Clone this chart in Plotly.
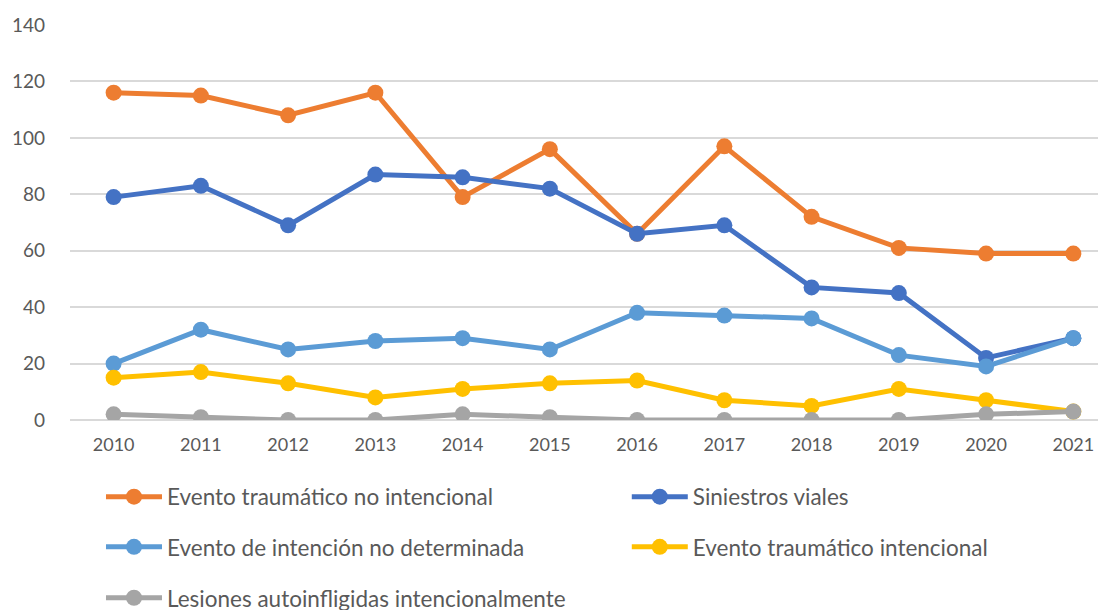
import plotly.graph_objects as go

# years on the x axis
years = ["2010", "2011", "2012", "2013", "2014", "2015",
         "2016", "2017", "2018", "2019", "2020", "2021"]

# series
no_intencional = [116, 115, 108, 116, 79, 96, 66, 97, 72, 61, 59, 59]
siniestros = [79, 83, 69, 87, 86, 82, 66, 69, 47, 45, 22, 29]
no_determinada = [20, 32, 25, 28, 29, 25, 38, 37, 36, 23, 19, 29]
intencional = [15, 17, 13, 8, 11, 13, 14, 7, 5, 11, 7, 3]
autoinfligidas = [2, 1, 0, 0, 2, 1, 0, 0, 0, 0, 2, 3]

series = [
    ("Evento traumático no intencional", no_intencional, "#ED7D31"),
    ("Siniestros viales", siniestros, "#4472C4"),
    ("Evento de intención no determinada", no_determinada, "#5B9BD5"),
    ("Evento traumático intencional", intencional, "#FFC000"),
    ("Lesiones autoinfligidas intencionalmente", autoinfligidas, "#A5A5A5"),
]

# one legend per entry, laid out as a 2-column grid under the plot
leg_spots = [(0.030, -0.195), (0.539, -0.195),
             (0.030, -0.322), (0.539, -0.322),
             (0.030, -0.451)]

txt = "#595959"
font = "Lato, 'Open Sans', sans-serif"

fig = go.Figure()
legends = {}
for i, (name, vals, color) in enumerate(series):
    key = "legend" if i == 0 else "legend%d" % (i + 1)
    fig.add_trace(go.Scatter(
        x=years, y=vals, name=name, mode="lines+markers",
        line=dict(color=color, width=5),
        marker=dict(color=color, size=16),
        legend=key,
    ))
    lx, ly = leg_spots[i]
    legends[key] = dict(x=lx, xanchor="left", y=ly, yanchor="middle",
                        itemwidth=56, bgcolor="rgba(0,0,0,0)",
                        font=dict(size=22.5, color=txt, family=font))

# page body has an 8px margin, so the margins are shifted by that amount
fig.update_layout(
    width=1106, height=610,
    margin=dict(l=62, r=11, t=17, b=198, autoexpand=False),
    plot_bgcolor="white", paper_bgcolor="white",
    font=dict(family=font, color=txt),
    showlegend=True,
    xaxis=dict(
        type="category", range=[-0.5, 11.34],
        showgrid=False, showline=False, zeroline=False,
        ticks="", tickfont=dict(size=18, color=txt),
        ticklabelstandoff=12,
    ),
    yaxis=dict(
        range=[0, 140], dtick=20, tick0=0,
        gridcolor="#D9D9D9", gridwidth=1.5,
        zeroline=True, zerolinecolor="#D9D9D9", zerolinewidth=1.5,
        showline=False, ticks="",
        tickfont=dict(size=19, color=txt),
        ticklabelstandoff=24,
    ),
    **legends,
)

fig.write_html("out.html")
